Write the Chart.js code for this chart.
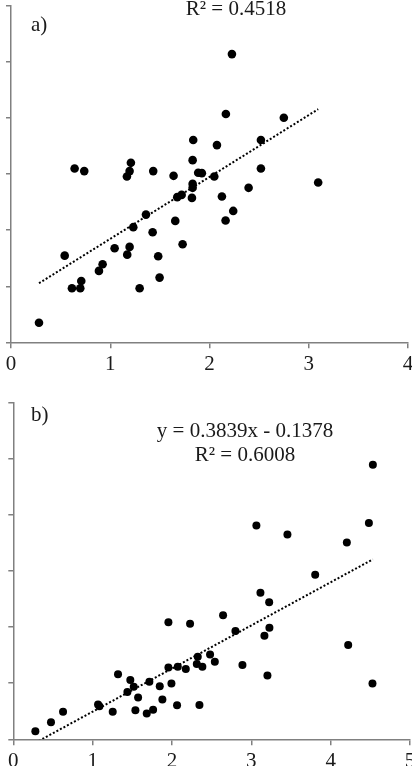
<!DOCTYPE html>
<html lang="en">
<head>
<meta charset="UTF-8">
<title>Scatter panels a) and b)</title>
<script src="https://cdn.jsdelivr.net/npm/chart.js"></script>
<style>
  body {
    margin: 0;
    width: 412px;
    height: 766px;
    overflow: hidden;
    position: relative;
    background: #ffffff;
    font-family: "Liberation Serif", "Times New Roman", serif;
  }
  .panel { position: absolute; left: 0; }
  .note {
    position: absolute;
    font-size: 21px;
    line-height: 21px;
    color: #1a1a1a;
    white-space: nowrap;
  }
  .center { text-align: center; width: 240px; }
</style>
</head>
<body>

<!-- panel a -->
<div class="panel" style="top:0">
  <canvas id="chartA" width="440" height="385"></canvas>
</div>
<div class="note" style="left:31px; top:14px">a)</div>
<div class="note center" id="eqA" style="left:116px; top:-2.5px"></div>

<!-- panel b -->
<div class="panel" style="top:390px">
  <canvas id="chartB" width="440" height="390"></canvas>
</div>
<div class="note" style="left:31px; top:404px">b)</div>
<div class="note center" id="eqB1" style="left:125px; top:420px"></div>
<div class="note center" id="eqB2" style="left:125px; top:444px"></div>

<script>
// panel a data
var aX = [2.226, 2.165, 2.749, 1.836, 2.518, 2.075, 1.830, 0.641, 0.738, 1.208,
          1.195, 1.168, 1.433, 1.638, 1.886, 1.923, 2.518, 2.048, 3.095, 1.830,
          1.830, 1.675, 1.719, 1.823, 2.125, 2.239, 2.162, 1.360, 1.232, 1.655,
          1.427, 1.729, 0.541, 1.044, 1.195, 1.171, 1.483, 0.923, 0.886, 1.497,
          0.708, 0.614, 0.698, 1.296, 0.282, 2.394];
var aY = [2.571, 2.036, 2.003, 1.804, 1.804, 1.759, 1.625, 1.550, 1.527, 1.601,
          1.527, 1.479, 1.527, 1.485, 1.512, 1.509, 1.550, 1.479, 1.425, 1.413,
          1.378, 1.295, 1.315, 1.288, 1.300, 1.172, 1.086, 1.139, 1.027, 1.083,
          0.982, 0.875, 0.773, 0.839, 0.851, 0.782, 0.768, 0.696, 0.637, 0.577,
          0.547, 0.482, 0.482, 0.482, 0.175, 1.378];
// trendline of a: its equation is cut off in the source
var aSlope = 0.552;
var aIntercept = 0.371;
var aR2 = 0.4518;

// panel b data
var bX = [4.532, 3.064, 3.455, 4.204, 4.482, 3.805, 3.115, 3.225, 2.644, 1.955,
          2.228, 2.800, 3.228, 3.165, 4.221, 2.325, 2.480, 2.540, 2.313, 2.383,
          2.888, 1.955, 2.073, 2.174, 3.203, 1.320, 1.475, 1.518, 1.438, 1.715,
          1.846, 1.993, 1.573, 1.879, 1.068, 1.085, 1.253, 1.539, 1.682, 1.762,
          2.064, 2.346, 4.527, 0.627, 0.475, 0.278];
var bY = [2.443, 1.904, 1.824, 1.753, 1.925, 1.464, 1.304, 1.220, 1.104, 1.041,
          1.029, 0.964, 0.994, 0.922, 0.839, 0.735, 0.755, 0.690, 0.670, 0.646,
          0.661, 0.640, 0.646, 0.625, 0.568, 0.580, 0.529, 0.467, 0.422, 0.512,
          0.473, 0.496, 0.371, 0.354, 0.309, 0.295, 0.246, 0.259, 0.229, 0.262,
          0.304, 0.306, 0.496, 0.246, 0.152, 0.071];
var bSlope = 0.3839;
var bIntercept = -0.1378;
var bR2 = 0.6008;

// axes
var xMaxA = 4;
var xMaxB = 5;
var yMax = 3;
var yStep = 0.5;

var axisGrey = '#808080';
var textColor = '#1a1a1a';

function toPoints(xs, ys) {
    return xs.map(function (x, i) { return { x: x, y: ys[i] }; });
}

// trendline spans the data's x range, like excel does
function trendPoints(xs, m, b) {
    var lo = Math.min.apply(null, xs), hi = Math.max.apply(null, xs);
    return [{ x: lo, y: m * lo + b }, { x: hi, y: m * hi + b }];
}

function makeChart(id, xs, ys, m, b, xMax, radius, pad) {
    var ctx = document.getElementById(id).getContext('2d');
    return new Chart(ctx, {
        type: 'scatter',
        data: {
            datasets: [{
                type: 'line',
                data: trendPoints(xs, m, b),
                borderColor: '#000000',
                borderWidth: 2,
                borderDash: [2, 2],
                pointRadius: 0,
                fill: false,
                clip: 0
            }, {
                data: toPoints(xs, ys),
                backgroundColor: '#000000',
                borderWidth: 0,
                pointRadius: radius
            }]
        },
        options: {
            responsive: false,
            animation: false,
            layout: { padding: pad },
            plugins: { legend: { display: false }, tooltip: { enabled: false } },
            scales: {
                x: {
                    type: 'linear',
                    min: 0,
                    max: xMax,
                    ticks: {
                        stepSize: 1,
                        color: textColor,
                        padding: 4,
                        maxRotation: 0,
                        font: { family: 'Liberation Serif', size: 21 }
                    },
                    grid: { drawOnChartArea: false, tickLength: 6, color: axisGrey, lineWidth: 1.5 },
                    border: { color: axisGrey, width: 1.5 }
                },
                y: {
                    min: 0,
                    max: yMax,
                    ticks: { stepSize: yStep, display: false },
                    grid: { drawOnChartArea: false, tickLength: 5, color: axisGrey, lineWidth: 1.5 },
                    border: { color: axisGrey, width: 1.5 }
                }
            }
        }
    });
}

makeChart('chartA', aX, aY, aSlope, aIntercept, xMaxA, 4.3, { left: 6, top: 6, right: 32, bottom: 3.5 });
makeChart('chartB', bX, bY, bSlope, bIntercept, xMaxB, 4, { left: 8.3, top: 12.3, right: 30, bottom: 1.5 });

document.getElementById('eqA').textContent = 'R\u00b2 = ' + aR2.toFixed(4);
document.getElementById('eqB1').textContent = 'y = ' + bSlope.toFixed(4) + 'x - ' + Math.abs(bIntercept).toFixed(4);
document.getElementById('eqB2').textContent = 'R\u00b2 = ' + bR2.toFixed(4);
</script>
</body>
</html>
